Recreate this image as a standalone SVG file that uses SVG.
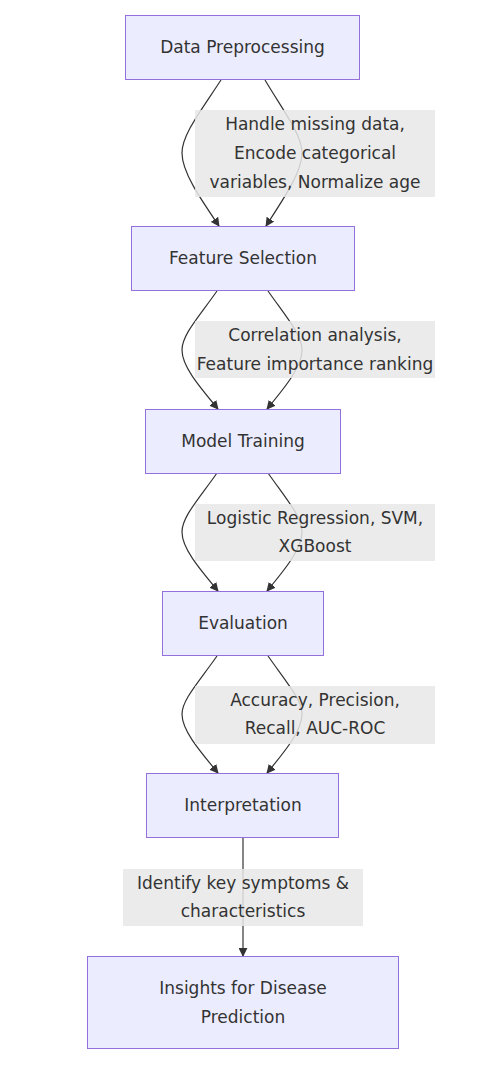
<svg xmlns="http://www.w3.org/2000/svg" width="496" height="1078" viewBox="0 0 496 1078">
<style>
.node rect{fill:#ECECFF;stroke:#9370DB;stroke-width:1}
text{font-family:"DejaVu Sans","Liberation Sans",sans-serif;font-size:17px;fill:#333;text-anchor:middle}
.edge{fill:none;stroke:#333;stroke-width:1.2}
.lbl{fill:#e8e8e8;fill-opacity:0.85}
</style>
<defs>
<marker id="arr" viewBox="0 0 10 10" refX="9" refY="5" markerWidth="9" markerHeight="9" markerUnits="userSpaceOnUse" orient="auto">
<path d="M0,0 L10,5 L0,10 z" fill="#333"/>
</marker>
</defs>
<rect width="496" height="1078" fill="#fff"/>
<g id="connectors">
<path class="edge" marker-end="url(#arr)" d="M221,80 C200,112 182,135 182,153 C182,172 200,198 219,226"/>
<path class="edge" marker-end="url(#arr)" d="M265,80 C284,112 302,135 302,153 C302,172 284,198 266,226"/>
<path class="edge" marker-end="url(#arr)" d="M217,291 C198,318 182,335 182,350 C182,366 198,385 218,409"/>
<path class="edge" marker-end="url(#arr)" d="M268,291 C287,318 302,335 302,350 C302,366 287,385 267,409"/>
<path class="edge" marker-end="url(#arr)" d="M217,473 C198,500 182,517 182,532 C182,548 198,567 218,591"/>
<path class="edge" marker-end="url(#arr)" d="M268,473 C287,500 302,517 302,532 C302,548 287,567 267,591"/>
<path class="edge" marker-end="url(#arr)" d="M217,656 C198,683 182,700 182,714 C182,730 198,749 218,773"/>
<path class="edge" marker-end="url(#arr)" d="M268,656 C287,683 302,700 302,714 C302,730 287,749 267,773"/>
<path class="edge" marker-end="url(#arr)" d="M243,838 L243,956"/>
</g>
<g id="edge-labels">
<rect class="lbl" x="195" y="110" width="240" height="87"/>
<text x="315" y="130">Handle missing data,</text>
<text x="315" y="159">Encode categorical</text>
<text x="315" y="188">variables, Normalize age</text>
<rect class="lbl" x="195" y="321" width="240" height="57"/>
<text x="315" y="341">Correlation analysis,</text>
<text x="315" y="370">Feature importance ranking</text>
<rect class="lbl" x="195" y="504" width="240" height="57"/>
<text x="315" y="524">Logistic Regression, SVM,</text>
<text x="315" y="552">XGBoost</text>
<rect class="lbl" x="195" y="686" width="240" height="58"/>
<text x="315" y="706">Accuracy, Precision,</text>
<text x="315" y="734">Recall, AUC-ROC</text>
<rect class="lbl" x="123" y="869" width="240" height="57"/>
<text x="243" y="889">Identify key symptoms &amp;</text>
<text x="243" y="917">characteristics</text>
</g>
<g id="n1" class="node"><rect x="125.5" y="15.5" width="234" height="64"/><text x="242.5" y="53">Data Preprocessing</text></g>
<g id="n2" class="node"><rect x="131.5" y="226.5" width="223" height="64"/><text x="243" y="264">Feature Selection</text></g>
<g id="n3" class="node"><rect x="145.5" y="409.5" width="195" height="64"/><text x="243" y="447">Model Training</text></g>
<g id="n4" class="node"><rect x="162.5" y="591.5" width="161" height="64"/><text x="243" y="629">Evaluation</text></g>
<g id="n5" class="node"><rect x="146.5" y="773.5" width="192" height="64"/><text x="243" y="811">Interpretation</text></g>
<g id="n6" class="node"><rect x="87.5" y="956.5" width="311" height="92"/><text x="243" y="994">Insights for Disease</text><text x="243" y="1023">Prediction</text></g>
</svg>
